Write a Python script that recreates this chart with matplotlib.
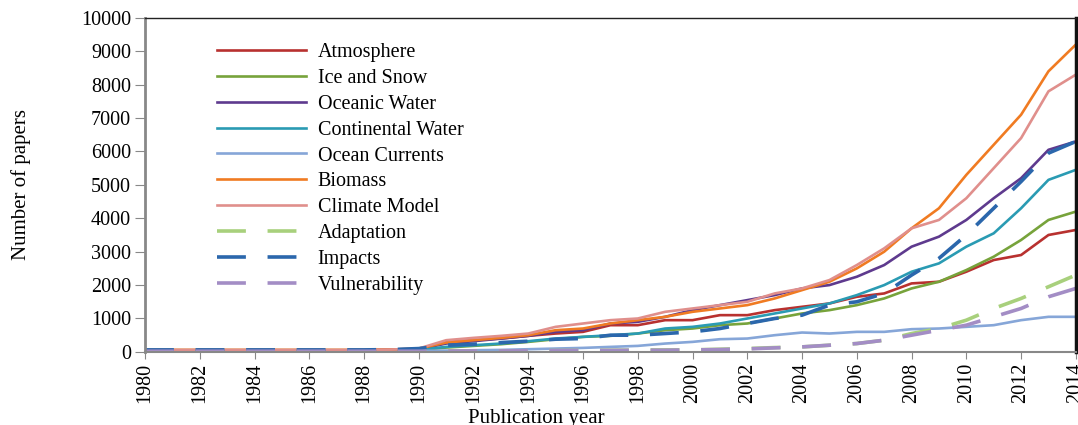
import numpy as np
import matplotlib
matplotlib.use('Agg')
import matplotlib.pyplot as plt

plt.rcParams['font.family'] = ['Liberation Serif', 'DejaVu Serif']

years = list(range(1980, 2015))

# values, 1980 .. 2014
atmosphere = [50, 50, 50, 50, 50, 50, 50, 50, 50, 60, 80, 300, 350, 400, 480, 550, 600, 800, 800, 950,
              950, 1100, 1100, 1250, 1350, 1450, 1650, 1750, 2050, 2100, 2400, 2750, 2900, 3500, 3650]
ice_snow = [40, 40, 40, 40, 40, 40, 40, 40, 40, 45, 50, 130, 180, 230, 300, 380, 450, 480, 550, 650,
            700, 800, 850, 1000, 1150, 1250, 1400, 1600, 1900, 2100, 2450, 2850, 3350, 3950, 4200]
oceanic = [50, 50, 50, 50, 50, 50, 50, 50, 50, 60, 80, 250, 320, 400, 480, 600, 650, 850, 900, 1050,
           1250, 1400, 1550, 1700, 1900, 2000, 2250, 2600, 3150, 3450, 3950, 4600, 5200, 6050, 6300]
continental = [40, 40, 40, 40, 40, 40, 40, 40, 40, 45, 60, 150, 200, 250, 320, 400, 450, 500, 550, 700,
               750, 850, 1000, 1150, 1300, 1450, 1700, 2000, 2400, 2650, 3150, 3550, 4300, 5150, 5450]
currents = [20, 20, 20, 20, 20, 20, 20, 20, 20, 25, 30, 40, 50, 60, 80, 100, 120, 150, 180, 250,
            300, 380, 400, 500, 580, 550, 600, 600, 680, 700, 750, 800, 950, 1050, 1050]
biomass = [60, 60, 60, 60, 60, 60, 60, 60, 60, 70, 100, 280, 350, 420, 500, 650, 700, 850, 950, 1050,
           1200, 1300, 1400, 1600, 1850, 2100, 2500, 3000, 3700, 4300, 5300, 6200, 7100, 8400, 9200]
climate_model = [50, 50, 50, 50, 50, 50, 50, 50, 50, 70, 100, 350, 420, 480, 550, 750, 850, 950, 1000, 1200,
                 1300, 1400, 1500, 1750, 1900, 2150, 2600, 3100, 3700, 3950, 4600, 5500, 6400, 7800, 8300]
adaptation = [20, 20, 20, 20, 20, 20, 20, 20, 20, 20, 20, 25, 30, 30, 35, 40, 45, 50, 55, 60,
              60, 80, 100, 130, 150, 200, 250, 350, 550, 700, 950, 1300, 1600, 1950, 2300]
impacts = [60, 60, 60, 60, 60, 60, 60, 60, 60, 70, 100, 200, 230, 280, 320, 380, 400, 500, 500, 550,
           600, 700, 850, 1000, 1100, 1400, 1500, 1750, 2300, 2800, 3500, 4300, 5100, 5950, 6300]
vulnerability = [20, 20, 20, 20, 20, 20, 20, 20, 20, 20, 20, 25, 30, 30, 35, 40, 45, 45, 50, 50,
                 60, 70, 90, 120, 150, 200, 250, 350, 500, 650, 800, 1050, 1300, 1650, 1900]

series = [
    ('Atmosphere', atmosphere, '#b8312f', '-'),
    ('Ice and Snow', ice_snow, '#77a33b', '-'),
    ('Oceanic Water', oceanic, '#5e3a8e', '-'),
    ('Continental Water', continental, '#2a9bb3', '-'),
    ('Ocean Currents', currents, '#86a6d8', '-'),
    ('Biomass', biomass, '#f07b22', '-'),
    ('Climate Model', climate_model, '#e08f8c', '-'),
    ('Adaptation', adaptation, '#a8d07c', '--'),
    ('Impacts', impacts, '#2b67ac', '--'),
    ('Vulnerability', vulnerability, '#a38dc5', '--'),
]

fig = plt.figure(figsize=(10.78, 4.25), dpi=100)
ax = fig.add_axes([0.1345, 0.172, 0.8635, 0.786])

for name, vals, col, ls in series:
    if ls == '--':
        ax.plot(years, vals, color=col, lw=2.6, dashes=(8, 6), label=name)
    else:
        ax.plot(years, vals, color=col, lw=1.9, label=name)

ax.set_xlim(1980, 2014)
ax.set_ylim(0, 10000)
ax.set_xticks(range(1980, 2015, 2))
ax.set_yticks(range(0, 10001, 1000))
ax.tick_params(axis='x', labelrotation=90, labelsize=14.5, direction='out', length=5, color='#888888', pad=3)
ax.tick_params(axis='y', labelsize=14.5, direction='out', length=7, color='#888888', pad=3)

ax.spines['left'].set_color('#888888')
ax.spines['left'].set_linewidth(2)
ax.spines['bottom'].set_color('#888888')
ax.spines['bottom'].set_linewidth(1.5)
ax.spines['top'].set_color('#222222')
ax.spines['top'].set_linewidth(1)
ax.spines['right'].set_color('#111111')
ax.spines['right'].set_linewidth(2.5)

ax.set_ylabel('Number of papers', fontsize=15)
ax.yaxis.set_label_coords(-0.122, 0.5)
ax.set_xlabel('Publication year', fontsize=15)
ax.xaxis.set_label_coords(0.42, -0.172)

ax.legend(loc='upper left', bbox_to_anchor=(0.058, 0.98), frameon=False, fontsize=14.5,
          handlelength=4.4, labelspacing=0.34, handletextpad=0.6)

fig.savefig('out.png', dpi=100)
